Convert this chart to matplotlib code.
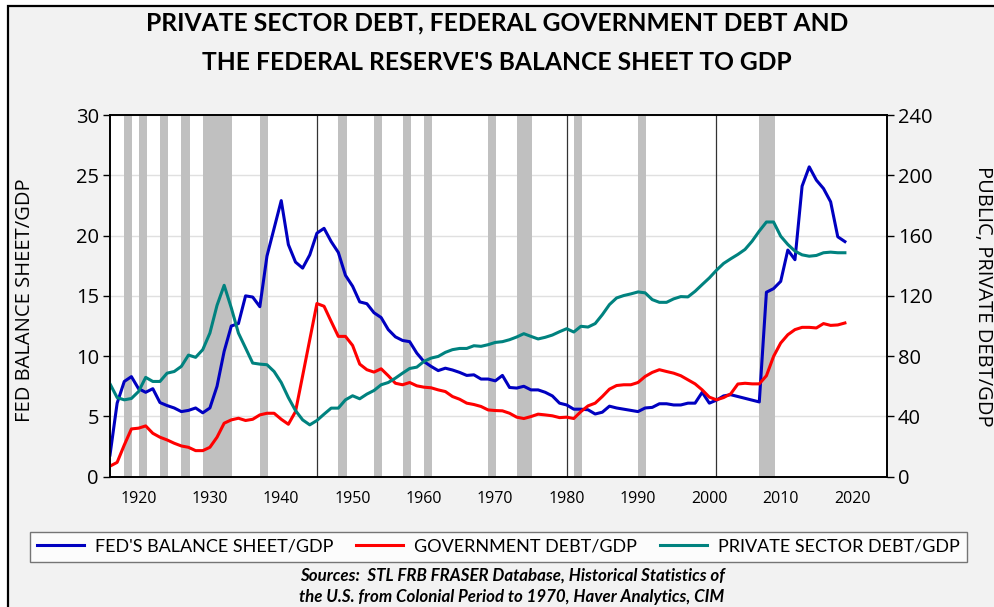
import numpy as np
import matplotlib
matplotlib.use("Agg")
import matplotlib.pyplot as plt
from matplotlib.patches import Rectangle

years = list(range(1916, 2020))

# Fed balance sheet / GDP (left axis, %)
fed_bs = [1.8, 6.1, 7.9, 8.3, 7.3, 7.0, 7.3, 6.15, 5.9, 5.7,
          5.4, 5.5, 5.7, 5.3, 5.7, 7.5, 10.4, 12.5, 12.7, 15.0,
          14.9, 14.1, 18.3, 20.6, 22.9, 19.25, 17.8, 17.3, 18.4, 20.2,
          20.6, 19.5, 18.6, 16.7, 15.8, 14.5, 14.35, 13.6, 13.2, 12.2,
          11.6, 11.3, 11.2, 10.25, 9.55, 9.15, 8.8, 9.0, 8.85, 8.65,
          8.4, 8.45, 8.1, 8.1, 7.95, 8.4, 7.4, 7.35, 7.5, 7.2,
          7.2, 7.0, 6.7, 6.1, 5.95, 5.6, 5.6, 5.55, 5.2, 5.35,
          5.85, 5.7, 5.6, 5.5, 5.4, 5.7, 5.75, 6.05, 6.05, 5.95,
          5.95, 6.1, 6.1, 7.0, 6.1, 6.35, 6.7, 6.8, 6.65, 6.5,
          6.35, 6.2, 15.3, 15.6, 16.2, 18.8, 18.0, 24.1, 25.7, 24.6,
          23.9, 22.8, 19.9, 19.5]

# Government debt / GDP (right axis, %)
gov_debt = [7.0, 9.5, 21.0, 31.7, 32.2, 33.7, 28.8, 26.2, 24.4, 22.2,
            20.4, 19.5, 17.3, 17.3, 19.5, 26.2, 35.5, 37.7, 38.8, 37.3,
            38.1, 41.0, 42.1, 42.1, 38.1, 34.8, 43.2, 67.0, 91.0, 114.9,
            113.1, 103.0, 93.1, 93.1, 87.1, 74.7, 71.0, 69.4, 71.6, 67.0,
            62.0, 61.0, 62.5, 60.3, 59.4, 59.0, 57.6, 56.5, 53.2, 51.4,
            48.8, 47.9, 46.6, 44.3, 43.9, 43.7, 42.1, 39.5, 38.6, 39.9,
            41.5, 41.0, 40.4, 39.2, 39.5, 38.6, 43.2, 47.0, 48.8, 53.2,
            58.1, 60.5, 61.0, 61.0, 62.5, 66.5, 69.2, 71.0, 69.8, 68.7,
            67.0, 64.3, 61.6, 57.6, 52.8, 51.0, 52.5, 55.0, 61.5, 62.0,
            61.6, 61.6, 67.0, 79.8, 88.7, 94.2, 97.6, 99.1, 99.1, 98.7,
            101.6, 100.4, 100.7, 102.0]

# Private sector debt / GDP (right axis, %)
private_debt = [61.6, 52.5, 51.0, 51.9, 56.5, 65.9, 63.2, 63.2, 68.7, 69.8,
                73.2, 80.7, 79.2, 84.3, 95.3, 113.7, 127.0, 112.0, 95.3, 85.4,
                75.4, 74.7, 74.3, 69.8, 62.5, 52.5, 43.9, 37.7, 34.4, 37.3,
                41.5, 45.5, 45.5, 51.0, 53.7, 51.7, 54.8, 57.2, 61.0, 62.5,
                65.4, 68.7, 71.8, 72.7, 76.5, 78.7, 79.8, 82.5, 84.3, 85.1,
                85.1, 86.9, 86.5, 87.6, 89.1, 89.6, 90.9, 92.7, 94.9, 93.1,
                91.4, 92.5, 94.0, 96.2, 98.2, 96.0, 99.8, 99.3, 101.6, 107.5,
                114.2, 118.6, 120.2, 121.3, 122.6, 122.0, 117.5, 115.7, 115.7, 118.0,
                119.5, 119.3, 123.0, 127.5, 131.9, 137.0, 141.5, 144.6, 147.5, 150.8,
                156.3, 163.0, 169.0, 169.0, 159.6, 154.1, 149.7, 147.2, 146.3, 146.8,
                148.6, 149.0, 148.6, 148.6]

# recession shading (annual)
rec_start = [1918, 1920, 1923, 1926, 1929, 1937, 1948, 1953, 1957, 1960,
             1969, 1973, 1981, 1990, 2007]
rec_end = [1919, 1921, 1924, 1927, 1933, 1938, 1949, 1954, 1958, 1961,
           1970, 1975, 1982, 1991, 2009]
marker_years = [1945, 1980, 2001]

left_ticks = [0, 5, 10, 15, 20, 25, 30]
right_ticks = [0, 40, 80, 120, 160, 200, 240]
x_ticks = list(range(1920, 2030, 10))

plt.rcParams['font.family'] = ['Lato', 'DejaVu Sans']
side_font = ['Open Sans', 'DejaVu Sans']

W, H = 995, 607
fig = plt.figure(figsize=(W / 100, H / 100), dpi=100)
fig.patch.set_facecolor('white')
fig.patches.append(Rectangle((8 / W, -0.1), 1.2, 1 - 6 / H + 0.1,
                             transform=fig.transFigure, facecolor='#f2f2f2',
                             edgecolor='black', linewidth=1.6, zorder=-10))

ax = fig.add_axes([110 / W, 1 - 476.7 / H, (887 - 110) / W, (476.7 - 115) / H])
ax.set_facecolor('white')
ax2 = ax.twinx()

for s, e in zip(rec_start, rec_end):
    ax.axvspan(s, e + 0.15, color='#c0c0c0', lw=0, zorder=1)
for yr in marker_years:
    ax.axvline(yr, color='#333333', lw=0.9, zorder=2)

ax.set_yticks(left_ticks)
ax.yaxis.grid(True, color='#e0e0e0', lw=1, zorder=0)
ax.set_axisbelow(True)

l1, = ax.plot(years, fed_bs, color='#0000c0', lw=2.2, zorder=5,
              label="FED'S BALANCE SHEET/GDP")
l2, = ax2.plot(years, gov_debt, color='#ff0000', lw=2.2,
               label='GOVERNMENT DEBT/GDP')
l3, = ax2.plot(years, private_debt, color='#00827f', lw=2.2,
               label='PRIVATE SECTOR DEBT/GDP')

ax.set_xlim(1916, 2024.9)
ax.set_ylim(0, 30)
ax2.set_ylim(0, 240)
ax2.set_yticks(right_ticks)
ax.set_xticks(x_ticks)

ax.tick_params(axis='x', length=0, pad=10, labelsize=11.5)
ax.tick_params(axis='y', length=5, width=1, pad=3, labelsize=14.5)
ax2.tick_params(axis='y', length=5, width=1, pad=3, labelsize=14.5)
for lab in ax.get_xticklabels() + ax.get_yticklabels() + ax2.get_yticklabels():
    lab.set_fontfamily(side_font)

for a in (ax, ax2):
    for sp in a.spines.values():
        sp.set_color('black')
        sp.set_linewidth(1.2)

fig.text(25 / W, 1 - 300 / H, 'FED BALANCE SHEET/GDP', rotation=90,
         ha='center', va='center', fontsize=14.5, family=side_font)
fig.text(983 / W, 1 - 296 / H, 'PUBLIC, PRIVATE DEBT/GDP', rotation=-90,
         ha='center', va='center', fontsize=14.5, family=side_font)

fig.text(497 / W, 1 - 23 / H, 'PRIVATE SECTOR DEBT, FEDERAL GOVERNMENT DEBT AND',
         ha='center', va='center', fontsize=17.7, fontweight='bold')
fig.text(497 / W, 1 - 62 / H, "THE FEDERAL RESERVE'S BALANCE SHEET TO GDP",
         ha='center', va='center', fontsize=17.7, fontweight='bold')

leg = fig.legend([l1, l2, l3], [l1.get_label(), l2.get_label(), l3.get_label()],
                 loc='lower left', bbox_to_anchor=(30 / W, 1 - 562 / H, 937 / W, 35 / H),
                 mode='expand', ncol=3, frameon=True, fancybox=False,
                 handlelength=2.6, handletextpad=0.6, borderaxespad=0,
                 prop={'size': 13})
leg.get_frame().set_edgecolor('#555555')
leg.get_frame().set_linewidth(1.0)

fig.text(512 / W, 1 - 576 / H,
         'Sources:  STL FRB FRASER Database, Historical Statistics of',
         ha='center', va='center', fontsize=12.2, fontweight='bold', style='italic')
fig.text(512 / W, 1 - 597 / H,
         'the U.S. from Colonial Period to 1970, Haver Analytics, CIM',
         ha='center', va='center', fontsize=12.2, fontweight='bold', style='italic')

fig.savefig('out.png', dpi=100, facecolor=fig.get_facecolor())
